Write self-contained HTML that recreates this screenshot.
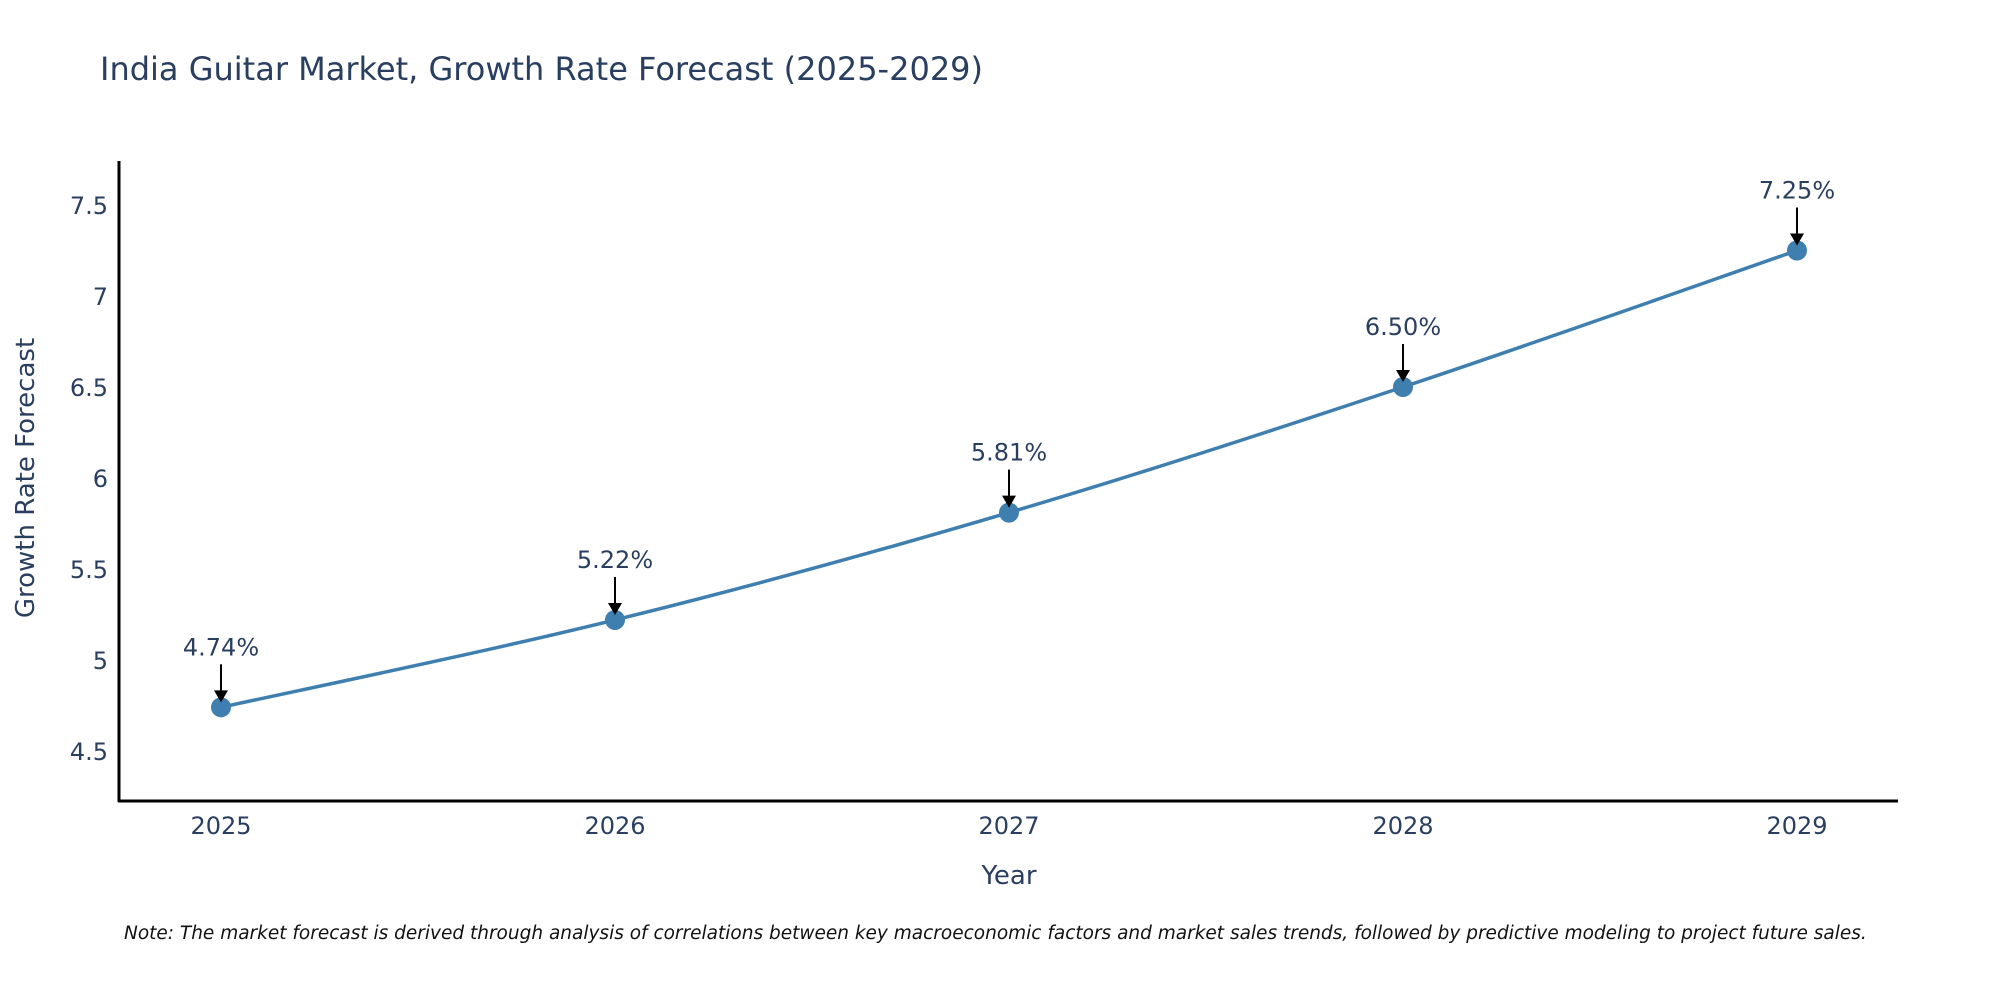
<!DOCTYPE html>
<html><head><meta charset="utf-8"><style>
body{margin:0;background:#fff}
svg text{font-family:"DejaVu Sans","Liberation Sans",sans-serif;fill:#2a3f5f}
</style></head><body>
<svg id="chart" width="2000" height="1000" xmlns="http://www.w3.org/2000/svg">
<text x="100" y="80" font-size="32">India Guitar Market, Growth Rate Forecast (2025-2029)</text>
<g id="yticks"></g>
<g id="xticks"></g>
<line x1="119" y1="161" x2="119" y2="802" stroke="#000" stroke-width="3"/>
<line x1="118" y1="801" x2="1898" y2="801" stroke="#000" stroke-width="3"/>
<text transform="translate(34,478) rotate(-90)" text-anchor="middle" font-size="26">Growth Rate Forecast</text>
<text x="1009" y="884" text-anchor="middle" font-size="26">Year</text>
<path id="line" fill="none" stroke="#3f7fb0" stroke-width="3.5"/>
<g id="marks"></g>
<g id="annots"></g>
<text x="124" y="939" font-size="18.5" font-style="italic" style="fill:#111">Note: The market forecast is derived through analysis of correlations between key macroeconomic factors and market sales trends, followed by predictive modeling to project future sales.</text>
</svg>
<script>
const years = [2025, 2026, 2027, 2028, 2029];
const values = [4.74, 5.22, 5.81, 6.50, 7.25];
const yTicks = [4.5, 5, 5.5, 6, 6.5, 7, 7.5];
const yTickLabels = ["4.5", "5", "5.5", "6", "6.5", "7", "7.5"];
const NS = "http://www.w3.org/2000/svg";
const xScale = y => 221 + (y - 2025) * 394;
const yScale = v => 751 - (v - 4.5) * 182;
function mk(tag, attrs, parent, txt){const e=document.createElementNS(NS,tag);for(const k in attrs)e.setAttribute(k,attrs[k]);if(txt!==undefined)e.textContent=txt;parent.appendChild(e);return e;}
const yt=document.getElementById('yticks');
yTicks.forEach((t,i)=>{const e=mk('text',{x:108,y:yScale(t)+9,'text-anchor':'end','font-size':24},yt,yTickLabels[i]);

});
const xt=document.getElementById('xticks');
years.forEach(y=>{const e=mk('text',{x:xScale(y),y:834,'text-anchor':'middle','font-size':24},xt,String(y));

});
const pts=years.map((y,i)=>[xScale(y),yScale(values[i])]);
let d=`M${pts[0][0]},${pts[0][1]}`;
for(let i=0;i<pts.length-1;i++){const p0=pts[Math.max(0,i-1)],p1=pts[i],p2=pts[i+1],p3=pts[Math.min(pts.length-1,i+2)];const s=6;
d+=` C${p1[0]+(p2[0]-p0[0])/s},${p1[1]+(p2[1]-p0[1])/s} ${p2[0]-(p3[0]-p1[0])/s},${p2[1]-(p3[1]-p1[1])/s} ${p2[0]},${p2[1]}`;}
document.getElementById('line').setAttribute('d',d);
const mg=document.getElementById('marks'),ag=document.getElementById('annots');
pts.forEach((p,i)=>{
const c=mk('circle',{cx:p[0],cy:p[1],r:10,fill:'#3f7fb0'},mg);


const l=mk('line',{x1:p[0],y1:p[1]-43,x2:p[0],y2:p[1]-14,stroke:'#000','stroke-width':2},ag);


const h=mk('polygon',{points:`${p[0]-7},${p[1]-17} ${p[0]+7},${p[1]-17} ${p[0]},${p[1]-5}`,fill:'#000'},ag);


const t=mk('text',{x:p[0],y:p[1]-52,'text-anchor':'middle','font-size':24},ag,values[i].toFixed(2)+'%');


});
</script>
</body></html>
